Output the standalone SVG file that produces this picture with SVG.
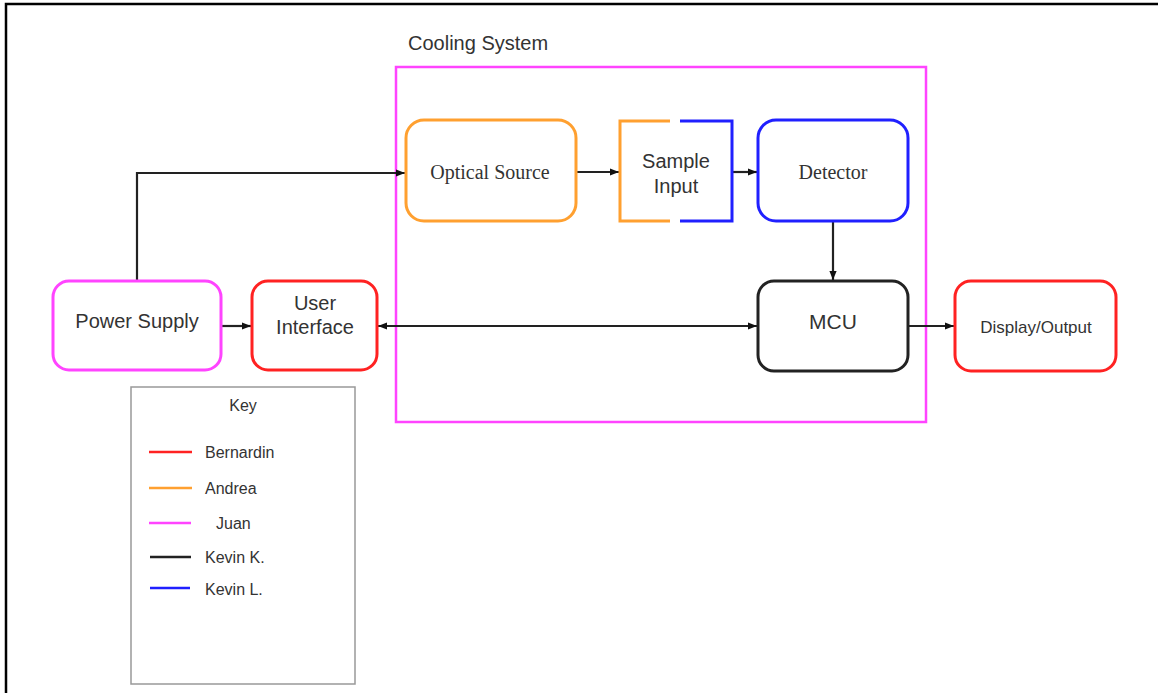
<svg xmlns="http://www.w3.org/2000/svg" width="1158" height="693" viewBox="0 0 1158 693">
<style>
.sans{font-family:"Liberation Sans",Arial,sans-serif;fill:#333}
.serif{font-family:"Liberation Serif","Times New Roman",serif;fill:#333}
.box{fill:#fff;stroke-width:3}
.conn{stroke:#222;stroke-width:2.2;fill:none}
.key{stroke-width:2.5}
</style>
<defs>
<marker id="arr" viewBox="0 0 10 10" refX="10" refY="5" markerWidth="10" markerHeight="9" orient="auto-start-reverse" markerUnits="userSpaceOnUse">
<path d="M0,1 L10,5 L0,9 Z" fill="#111"/>
</marker>
</defs>
<rect x="0" y="0" width="1158" height="693" fill="#fff"/>
<path d="M6,693 V4 H1158" fill="none" stroke="#000" stroke-width="2.5"/>

<g id="cooling">
<rect x="396" y="67" width="530" height="355" fill="none" stroke="#ff44ff" stroke-width="2.5"/>
<text class="sans" x="408" y="50" font-size="20">Cooling System</text>
</g>

<g id="connectors">
<path class="conn" d="M137,281 V173 H405" marker-end="url(#arr)"/>
<path class="conn" d="M576,172 H619" marker-end="url(#arr)"/>
<path class="conn" d="M732,172 H757" marker-end="url(#arr)"/>
<path class="conn" d="M833,221 V280" marker-end="url(#arr)"/>
<path class="conn" d="M221,326 H251" marker-end="url(#arr)"/>
<path class="conn" d="M378,326 H757" marker-start="url(#arr)" marker-end="url(#arr)"/>
<path class="conn" d="M908,326 H954" marker-end="url(#arr)"/>
</g>

<g id="optical">
<rect class="box" x="406" y="120" width="170" height="101" rx="18" stroke="#ffa030"/>
<text class="serif" x="490" y="179" font-size="20" text-anchor="middle">Optical Source</text>
</g>

<g id="sample">
<path d="M670,121 H620 V221 H670" fill="none" stroke="#ffa030" stroke-width="3"/>
<path d="M680,121 H732 V221 H680" fill="none" stroke="#2020ff" stroke-width="3"/>
<text class="sans" x="676" y="168" font-size="20" text-anchor="middle">Sample</text>
<text class="sans" x="676" y="193" font-size="20" text-anchor="middle">Input</text>
</g>

<g id="detector">
<rect class="box" x="758" y="120" width="150" height="101" rx="18" stroke="#2020ff"/>
<text class="serif" x="833" y="179" font-size="20" text-anchor="middle">Detector</text>
</g>

<g id="mcu">
<rect class="box" x="758" y="281" width="150" height="90" rx="16" stroke="#222"/>
<text class="sans" x="833" y="329" font-size="21" text-anchor="middle">MCU</text>
</g>

<g id="display">
<rect class="box" x="955" y="281" width="161" height="90" rx="16" stroke="#ff2222"/>
<text class="sans" x="1036" y="333" font-size="17" text-anchor="middle">Display/Output</text>
</g>

<g id="power">
<rect class="box" x="53" y="281" width="168" height="89" rx="16" stroke="#ff44ff"/>
<text class="sans" x="137" y="328" font-size="20" text-anchor="middle">Power Supply</text>
</g>

<g id="ui">
<rect class="box" x="252" y="281" width="125" height="89" rx="16" stroke="#ff2222"/>
<text class="sans" x="315" y="310" font-size="20" text-anchor="middle">User</text>
<text class="sans" x="315" y="334" font-size="20" text-anchor="middle">Interface</text>
</g>

<g id="key">
<rect x="131" y="387" width="224" height="297" fill="#fff" stroke="#999" stroke-width="1.5"/>
<text class="sans" x="243" y="411" font-size="16" text-anchor="middle">Key</text>
<line class="key" x1="149" y1="452" x2="192" y2="452" stroke="#ff2222"/>
<line class="key" x1="149" y1="488" x2="192" y2="488" stroke="#ffa030"/>
<line class="key" x1="149" y1="523" x2="191" y2="523" stroke="#ff44ff"/>
<line class="key" x1="150" y1="557" x2="191" y2="557" stroke="#222"/>
<line class="key" x1="150" y1="588" x2="190" y2="588" stroke="#2020ff"/>
<text class="sans" x="205" y="458" font-size="16">Bernardin</text>
<text class="sans" x="205" y="494" font-size="16">Andrea</text>
<text class="sans" x="216" y="529" font-size="16">Juan</text>
<text class="sans" x="205" y="563" font-size="16">Kevin K.</text>
<text class="sans" x="205" y="595" font-size="16">Kevin L.</text>
</g>
</svg>
